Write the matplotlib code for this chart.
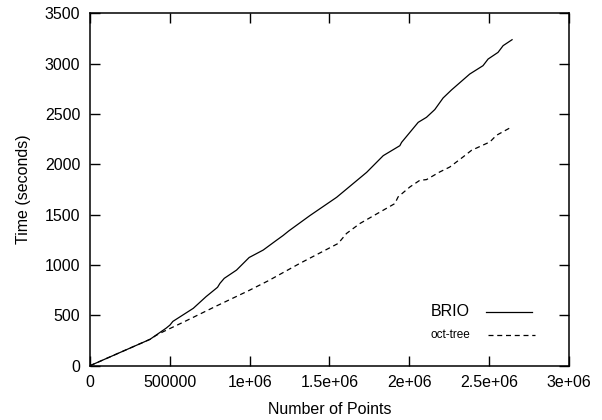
import matplotlib
matplotlib.use("Agg")
import matplotlib.pyplot as plt

plt.rcParams['font.family'] = ['Liberation Sans', 'DejaVu Sans']

# values (x in points, y in seconds)
brio_x = [0, 208e3, 376e3, 415e3, 477e3, 501e3, 519e3, 647e3, 727e3, 799e3,
          814e3, 841e3, 918e3, 997e3, 1085e3, 1163e3, 1210e3, 1246e3, 1378e3,
          1545e3, 1733e3, 1837e3, 1941e3, 1952e3, 2056e3, 2108e3, 2160e3,
          2212e3, 2264e3, 2379e3, 2462e3, 2494e3, 2556e3, 2588e3, 2644e3]
brio_y = [0, 145, 262, 305, 373, 404, 440, 570, 686, 779,
          818, 868, 950, 1075, 1149, 1240, 1294, 1340, 1492,
          1673, 1921, 2087, 2186, 2219, 2418, 2468, 2545,
          2660, 2739, 2898, 2981, 3047, 3113, 3180, 3239]

oct_x = [0, 208e3, 376e3, 415e3, 459e3, 584e3, 793e3, 997e3, 1117e3, 1315e3,
         1555e3, 1607e3, 1691e3, 1837e3, 1910e3, 1930e3, 2004e3, 2066e3,
         2108e3, 2191e3, 2254e3, 2337e3, 2390e3, 2505e3, 2546e3, 2630e3]
oct_y = [0, 145, 262, 302, 338, 432, 594, 748, 844, 1017,
         1215, 1314, 1413, 1545, 1611, 1677, 1776, 1842,
         1849, 1925, 1974, 2074, 2140, 2223, 2289, 2362]

xticks = [0, 500000, 1e6, 1.5e6, 2e6, 2.5e6, 3e6]
xtick_labels = ['0', '500000', '1e+06', '1.5e+06', '2e+06', '2.5e+06', '3e+06']
yticks = [0, 500, 1000, 1500, 2000, 2500, 3000, 3500]

fig = plt.figure(figsize=(6.02, 4.2), dpi=100)
ax = fig.add_axes([0.1495, 0.1293, 0.7955, 0.8387])

ax.plot(brio_x, brio_y, color='black', lw=0.9, label='BRIO')
ax.plot(oct_x, oct_y, color='black', lw=0.9, dashes=(4, 3), label='oct-tree')

ax.set_xlim(0, 3e6)
ax.set_ylim(0, 3500)
ax.set_xticks(xticks)
ax.set_xticklabels(xtick_labels)
ax.set_yticks(yticks)
ax.tick_params(direction='in', length=7, width=1, top=True, right=True,
               labelsize=11.5, pad=7)
for s in ax.spines.values():
    s.set_linewidth(1.1)

ax.set_xlabel('Number of Points', fontsize=11.5, labelpad=8)
ax.set_ylabel('Time (seconds)', fontsize=11.5, labelpad=10)

# gnuplot-style key in pixel coords: label right-aligned, sample line to its right
ax.text(470, 108, 'BRIO', transform=None, fontsize=11.5, ha='right', va='center')
ax.plot([486, 532], [108, 108], transform=None, color='black', lw=0.9)
ax.text(470, 85, 'oct-tree', transform=None, fontsize=8.5, ha='right', va='center')
ax.plot([488, 535], [85, 85], transform=None, color='black', lw=0.9, dashes=(4, 3))

fig.savefig('out.png', dpi=100)
